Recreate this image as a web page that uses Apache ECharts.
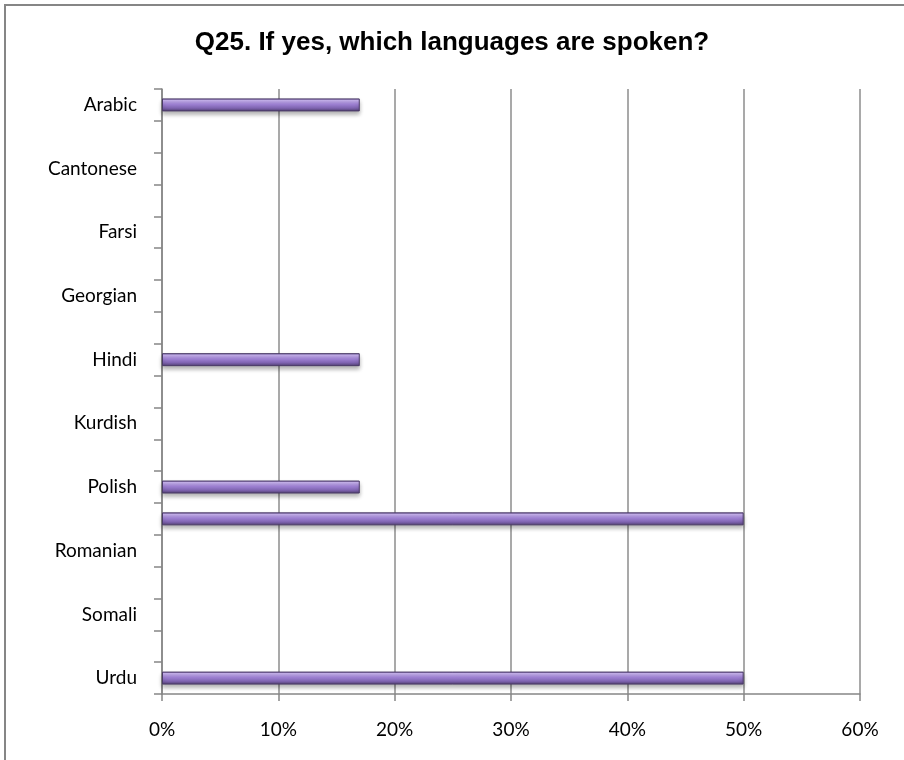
<!DOCTYPE html>
<html>
<head>
<meta charset="utf-8">
<script src="https://cdn.jsdelivr.net/npm/echarts@6/dist/echarts.min.js"></script>
<style>
  html, body { margin: 0; padding: 0; background: #fff; overflow: hidden; }
  #chart { width: 904px; height: 760px; }
</style>
</head>
<body>
<div id="chart"></div>
<script>
// categories (every other label is hidden like in the original)
const languages = ['Arabic', 'Bengali', 'Cantonese', 'Czech', 'Farsi', 'French', 'Georgian', 'Gujarati',
  'Hindi', 'Italian', 'Kurdish', 'Lithuanian', 'Polish', 'Punjabi', 'Romanian', 'Russian', 'Somali', 'Turkish', 'Urdu']
// percent of respondents
const shares = [17, 0, 0, 0, 0, 0, 0, 0, 17, 0, 0, 0, 17, 50, 0, 0, 0, 0, 50]
const xTicks = [0, 10, 20, 30, 40, 50, 60]

const chart = echarts.init(document.getElementById('chart'))

const barColor = new echarts.graphic.LinearGradient(0, 0, 0, 1, [
  { offset: 0, color: '#7259a0' },
  { offset: 0.15, color: '#c9b4f0' },
  { offset: 0.45, color: '#a284d8' },
  { offset: 0.75, color: '#7d62ae' },
  { offset: 1, color: '#4f3e6e' }
])

chart.setOption({
  animation: false,
  graphic: [
    {
      type: 'rect',
      shape: { x: 5, y: 5, width: 960, height: 800 },
      style: { fill: 'none', stroke: '#868686', lineWidth: 2 },
      silent: true
    }
  ],
  title: {
    text: 'Q25. If yes, which languages are spoken?',
    left: 'center',
    top: 25,
    textStyle: {
      fontFamily: 'Liberation Sans',
      fontWeight: 'bold',
      fontSize: 26,
      color: '#000'
    }
  },
  grid: {
    left: 162,
    right: 44,
    top: 89,
    bottom: 66,
    containLabel: false
  },
  xAxis: {
    type: 'value',
    min: xTicks[0],
    max: xTicks[xTicks.length - 1],
    interval: 10,
    axisLine: { show: true, lineStyle: { color: '#868686', width: 1.5 } },
    axisTick: { show: true, length: 7, lineStyle: { color: '#868686', width: 1.5 } },
    splitLine: { show: true, lineStyle: { color: '#8c8c8c', width: 1.5 } },
    axisLabel: {
      formatter: '{value}%',
      fontFamily: 'Lato',
      fontSize: 19,
      color: '#000',
      margin: 26
    }
  },
  yAxis: {
    type: 'category',
    inverse: true,
    data: languages,
    axisLine: { show: true, lineStyle: { color: '#868686', width: 1.5 } },
    axisTick: { show: true, interval: 0, length: 8, lineStyle: { color: '#868686', width: 1.5 } },
    axisLabel: {
      interval: 1,
      fontFamily: 'Lato',
      fontSize: 19,
      color: '#000',
      margin: 25
    }
  },
  series: [
    {
      type: 'bar',
      data: shares.map(v => (v === 0 ? null : v)),
      barWidth: 13,
      itemStyle: {
        color: barColor,
        borderColor: '#4a3a66',
        borderWidth: 1,
        shadowColor: 'rgba(0,0,0,0.3)',
        shadowBlur: 4,
        shadowOffsetY: 3
      }
    }
  ]
})
</script>
</body>
</html>
